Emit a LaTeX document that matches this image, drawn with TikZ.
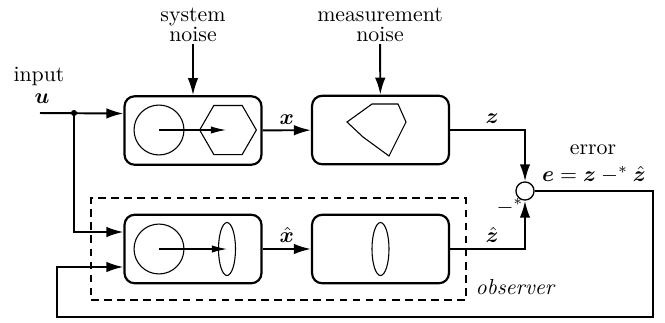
\documentclass[tikz,border=0pt]{standalone}
\usepackage{bm}
\usetikzlibrary{arrows.meta,shapes.geometric,calc}
\begin{document}
\begin{tikzpicture}[x=0.4587pt,y=-0.4587pt,
  blk/.style={draw, line width=1pt, rounded corners=4.6pt, minimum width=62.8pt, minimum height=31.4pt, inner sep=0pt},
  arr/.style={-{Latex[length=7.8pt,width=4.8pt]}, line width=0.9pt},
  iarr/.style={-{Latex[length=6.9pt,width=3.3pt]}, line width=0.5pt},
  ishape/.style={draw, line width=0.5pt, inner sep=0pt},
  lbl/.style={inner sep=1pt}]
\useasboundingbox (0,0) rectangle (665,322);

% blocks
\node[blk] (sys)  at (193,130.5) {};
\node[blk] (meas) at (380.5,130) {};
\node[blk] (obs1) at (193,249) {};
\node[blk] (obs2) at (380.5,249) {};
\node[draw, line width=0.6pt, dash pattern=on 3.5pt off 2.5pt, minimum width=172pt, minimum height=46.8pt, inner sep=0pt] (obsbox) at (278.5,249) {};
\node[circle, draw, line width=0.6pt, minimum size=8.3pt, inner sep=0pt] (sum) at (525,191) {};

% inner shapes
\node[ishape, circle, minimum size=22.9pt] (c1) at (159,130) {};
\node[ishape, regular polygon, regular polygon sides=6, minimum size=26pt] (h1) at (228,130) {};
\coordinate (t1) at (226,130);
\draw[iarr] (c1.center) -- (t1);
\draw[line width=0.5pt] (347,122) -- (372,104) -- (398,104) -- (406,122) -- (389,156) -- (363,137) -- cycle;
\node[ishape, circle, minimum size=22.9pt] (c2) at (159,249) {};
\node[ishape, ellipse, minimum width=7.8pt, minimum height=24.3pt] (e1) at (227,249) {};
\draw[iarr] (c2.center) -- (e1.center);
\node[ishape, ellipse, minimum width=7.8pt, minimum height=24.3pt] (e2) at (380.5,249) {};

% labels
\node[lbl] (inp) at (39,76) {input};
\node[lbl] (u) at (42,99) {$\bm{u}$};
\node[lbl, align=center, anchor=south] (sn) at (193,44) {system\\[-3pt]noise};
\node[lbl, align=center, anchor=south] (mn) at (380,44) {measurement\\[-3pt]noise};
\node[lbl] (err) at (593,150) {error};
\node[lbl] (eq) at (594,175) {$\bm{e}=\bm{z}-^{*}\hat{\bm{z}}$};
\node[lbl] (ms) at (510,207) {$-^{*}$};
\node[lbl, anchor=west] (obl) at (473,287) {\textit{observer}};

% connectors
\coordinate (uin) at (40,113);
\coordinate (j) at (74,113);
\draw[arr] (uin) -- ($(sys.west)+(0,-17)$);
\fill (j) circle (1.4pt);
\draw[arr] (j) |- ($(obs1.west)+(0,-17)$);
\draw[arr] (sn) -- (sys);
\draw[arr] (mn) -- (meas);
\draw[arr] (sys) -- node[lbl, above=1.4pt] (lx) {$\bm{x}$} (meas);
\draw[arr] (obs1) -- node[lbl, above=1.4pt] (lxh) {$\hat{\bm{x}}$} (obs2);
\draw[arr] (meas.east) -| node[lbl, pos=0.28, above=1.4pt] (lz) {$\bm{z}$} (sum.north);
\draw[arr] (obs2.east) -| node[lbl, pos=0.28, above=1.4pt] (lzh) {$\hat{\bm{z}}$} (sum.south);
\coordinate (fb1) at (653,317);
\coordinate (fb2) at (57,267);
\draw[arr] (sum.east) -| (fb1) -| (fb2) -- ($(obs1.west)+(0,18)$);
\end{tikzpicture}
\end{document}
